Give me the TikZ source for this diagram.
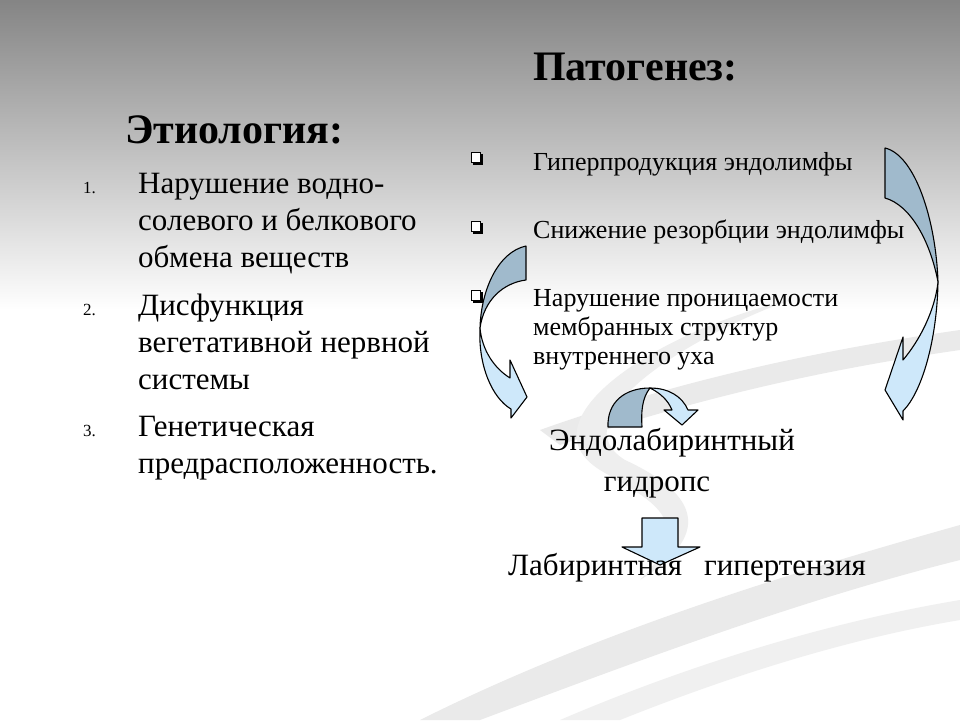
\documentclass[tikz,border=0pt]{standalone}
\usepackage{fontspec}
\setmainfont{Liberation Serif}
\usetikzlibrary{positioning}

\definecolor{ribbonback}{RGB}{160,186,204}
\definecolor{ribbonfront}{RGB}{206,232,250}
\definecolor{swoosh}{RGB}{234,234,234}

\tikzset{
    heading/.style={anchor=base west, inner sep=0pt, font=\fontsize{42}{46}\selectfont\bfseries},
    etitem/.style={anchor=base west, inner sep=0pt, font=\fontsize{31}{38}\selectfont},
    etnum/.style={anchor=base west, inner sep=0pt, font=\fontsize{17}{20}\selectfont},
    patitem/.style={anchor=base west, inner sep=0pt, font=\fontsize{26}{29}\selectfont},
    result/.style={anchor=base, inner sep=0pt, font=\fontsize{31}{38}\selectfont},
    ribbon/.style={draw=black, line width=1.1pt, line join=round},
}

\begin{document}
\begin{tikzpicture}[x=1pt, y=-1pt]
    \useasboundingbox (0,0) rectangle (960,720);
    % Background
    \fill[white] (0,0) rectangle (960,720);
    \shade[top color=black!48, bottom color=white] (0,0) rectangle (960,310);

    % Faint swooshes
    \fill[swoosh] (420,720) .. controls (600,630) and (800,570) .. (960,525)
        -- (960,560) .. controls (800,600) and (640,660) .. (480,720) -- cycle;
    \fill[swoosh!70!white] (560,720) .. controls (700,660) and (840,620) .. (960,600)
        -- (960,620) .. controls (840,640) and (720,680) .. (620,720) -- cycle;
    \fill[swoosh] (540,430) .. controls (680,380) and (820,350) .. (960,330)
        -- (960,350) .. controls (820,370) and (690,400) .. (560,445) -- cycle;
    \fill[swoosh!80!white] (790,300) .. controls (660,330) and (520,420) .. (600,470)
        .. controls (650,500) and (700,520) .. (640,580)
        .. controls (720,530) and (690,490) .. (625,460)
        .. controls (560,420) and (680,340) .. (790,300) -- cycle;

    % Etiology
    \node[heading] (ethead) at (125,143) {Этиология:};
    \node[etnum] (n1) at (83,193) {1.};
    \foreach \txt [count=\i] in {Нарушение водно-, солевого и белкового, обмена веществ}
        \node[etitem] (e1-\i) at (138,{193+(\i-1)*37}) {\txt};
    \node[etnum] (n2) at (83,315) {2.};
    \foreach \txt [count=\i] in {Дисфункция, вегетативной нервной, системы}
        \node[etitem] (e2-\i) at (138,{315+(\i-1)*37}) {\txt};
    \node[etnum] (n3) at (83,436) {3.};
    \foreach \txt [count=\i] in {Генетическая, предрасположенность.}
        \node[etitem] (e3-\i) at (138,{436+(\i-1)*37}) {\txt};

    % Pathogenesis
    \node[heading] (pathead) at (533,80) {Патогенез:};
    \foreach \y/\name in {158/b1, 227/b2, 296/b3} {
        \fill[black] (473,\y-4) rectangle (483,\y+7);
        \draw[fill=white, line width=0.8pt] (471,\y-6) rectangle (480,\y+4);
        \coordinate (\name) at (476,\y);
    }
    \node[patitem] (p1) at (533,170) {Гиперпродукция эндолимфы};
    \node[patitem] (p2) at (533,238) {Снижение резорбции эндолимфы};
    \foreach \txt [count=\i] in {Нарушение проницаемости, мембранных структур, внутреннего уха}
        \node[patitem] (p3-\i) at (533,{306+(\i-1)*29}) {\txt};

    % Curved arrows
    \draw[ribbon, fill=ribbonback] (526,246) .. controls (498,252) and (481,290) .. (480,328)
        .. controls (484,300) and (503,283) .. (526,280) -- cycle;
    \draw[ribbon, fill=ribbonfront] (480,328) .. controls (478,365) and (492,398) .. (511,409)
        -- (511,418) -- (527,397) -- (510,360) -- (510,378)
        .. controls (494,368) and (482,350) .. (480,328) -- cycle;

    \draw[ribbon, fill=ribbonback] (885,148) .. controls (915,155) and (936,220) .. (938,282)
        .. controls (930,240) and (910,205) .. (885,198) -- cycle;
    \draw[ribbon, fill=ribbonfront] (938,282) .. controls (937,340) and (922,392) .. (903,411)
        -- (903,420) -- (885,390) -- (903,337) -- (903,360)
        .. controls (920,340) and (935,310) .. (938,282) -- cycle;

    \draw[ribbon, fill=ribbonback] (608,427) .. controls (607,402) and (625,388) .. (650,388)
        .. controls (642,398) and (641,412) .. (642,427) -- cycle;
    \draw[ribbon, fill=ribbonfront] (650,388) .. controls (668,388) and (682,396) .. (688,410)
        -- (698,410) -- (682,425) -- (664,410) -- (672,410)
        .. controls (668,400) and (660,393) .. (650,388) -- cycle;

    % Outcome
    \node[result] (hydrops) at (672,450) {Эндолабиринтный};
    \node[result] (hydrops2) at (657,491) {гидропс};
    \draw[ribbon, fill=ribbonfront] (642,518) -- (678,518) -- (678,547) -- (700,547)
        -- (660,565) -- (622,547) -- (642,547) -- cycle;
    \node[result, anchor=base west] (hyper) at (508,575) {Лабиринтная\hspace{22pt}гипертензия};
\end{tikzpicture}
\end{document}
